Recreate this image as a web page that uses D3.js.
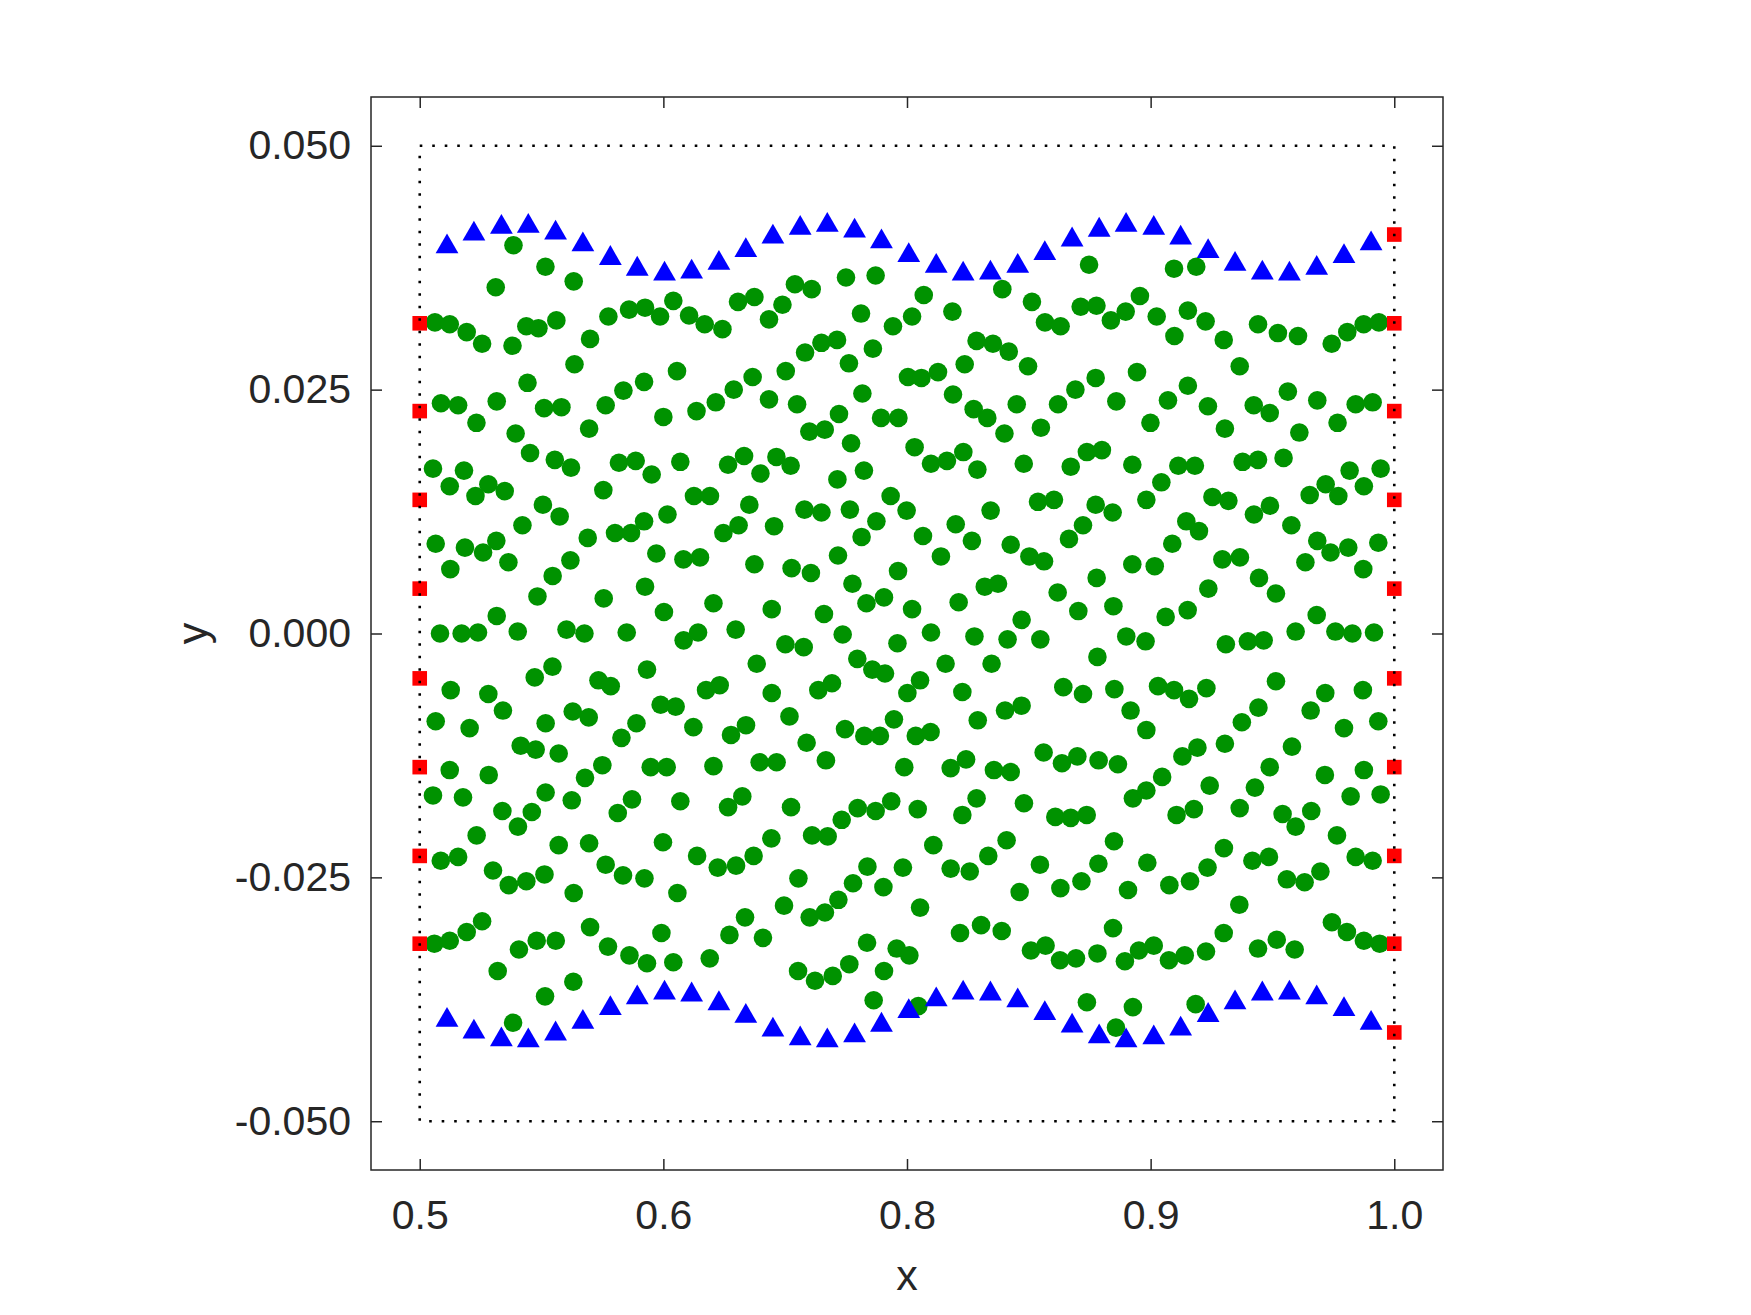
<!DOCTYPE html>
<html>
<head>
<meta charset="utf-8">
<script src="https://cdn.jsdelivr.net/npm/d3@7"></script>
<style>
  body { margin: 0; background: #fff; }
  text { font-family: "Liberation Sans", Arial, Helvetica, sans-serif; fill: #262626; }
</style>
</head>
<body>
<div id="chart"></div>
<script>
// Tick values and labels (x labels are rounded to one decimal)
const xTicks = [0.5, 0.625, 0.75, 0.875, 1.0];
const xTickLabels = ['0.5', '0.6', '0.8', '0.9', '1.0'];
const yTicks = [-0.05, -0.025, 0, 0.025, 0.05];
const yTickLabels = ['-0.050', '-0.025', '0.000', '0.025', '0.050'];

// Fluid particles (green) [x, y]
const fluidPoints = [
  [0.5481,0.0398],[0.5645,0.0376],[0.5390,0.0355],[0.5790,0.0361],[0.5078,0.0319],[0.5154,0.0317],[0.5241,0.0309],[0.5320,0.0297],[0.5476,0.0295],[0.5547,0.0315],[0.5609,0.0313],[0.5701,0.0321],[0.5968,0.0325],[0.6074,0.0332],[0.6156,0.0334],[0.5874,0.0302],[0.5794,0.0276],[0.5553,0.0257],[0.5109,0.0236],[0.5197,0.0234],[0.5291,0.0216],[0.5395,0.0238],[0.5492,0.0205],[0.5638,0.0231],[0.5727,0.0232],[0.5954,0.0234],[0.6045,0.0249],[0.6151,0.0258],[0.5869,0.0210],[0.5566,0.0185],[0.5693,0.0178],[0.5776,0.0170],[0.6022,0.0175],[0.6108,0.0177],[0.5068,0.0169],[0.5154,0.0151],[0.5227,0.0167],[0.5352,0.0153],[0.5436,0.0146],[0.5942,0.0147],
  [0.6233,0.0325],[0.6301,0.0341],[0.6382,0.0326],[0.6462,0.0317],[0.6553,0.0312],[0.6633,0.0340],[0.6717,0.0345],[0.6792,0.0322],[0.6861,0.0337],[0.6925,0.0358],[0.7011,0.0353],[0.7187,0.0365],[0.7339,0.0367],[0.7264,0.0328],[0.6320,0.0269],[0.6250,0.0222],[0.6420,0.0228],[0.6519,0.0237],[0.6611,0.0250],[0.6708,0.0263],[0.6792,0.0240],[0.6878,0.0269],[0.6936,0.0235],[0.6977,0.0288],[0.7061,0.0298],[0.7141,0.0301],[0.7202,0.0277],[0.7325,0.0292],[0.7271,0.0246],[0.7151,0.0225],[0.6999,0.0207],[0.7078,0.0209],[0.7213,0.0195],[0.7367,0.0221],[0.6190,0.0163],[0.6337,0.0176],[0.6582,0.0173],[0.6664,0.0182],[0.6748,0.0164],[0.6830,0.0181],[0.6903,0.0172],[0.7143,0.0158],[0.7279,0.0167],
  [0.7428,0.0315],[0.7526,0.0325],[0.7586,0.0347],[0.7733,0.0330],[0.7989,0.0353],[0.8141,0.0340],[0.8208,0.0319],[0.8288,0.0315],[0.8391,0.0335],[0.8472,0.0336],[0.8546,0.0321],[0.8622,0.0330],[0.8434,0.0378],[0.7857,0.0300],[0.7941,0.0297],[0.8022,0.0289],[0.8121,0.0274],[0.7796,0.0276],[0.7505,0.0263],[0.7574,0.0262],[0.7659,0.0268],[0.7736,0.0245],[0.7842,0.0230],[0.7912,0.0221],[0.8000,0.0205],[0.8063,0.0235],[0.8187,0.0211],[0.8275,0.0235],[0.8364,0.0250],[0.8468,0.0262],[0.8574,0.0238],[0.7456,0.0221],[0.7539,0.0191],[0.7623,0.0174],[0.7705,0.0177],[0.7789,0.0186],[0.7861,0.0168],[0.8099,0.0174],[0.8340,0.0171],[0.8423,0.0186],[0.8500,0.0188],
  [0.8870,0.0374],[0.8984,0.0376],[0.8695,0.0346],[0.8781,0.0325],[0.8941,0.0331],[0.9032,0.0320],[0.8872,0.0305],[0.9125,0.0301],[0.9207,0.0274],[0.9301,0.0317],[0.9403,0.0308],[0.9506,0.0305],[0.9679,0.0297],[0.9759,0.0309],[0.9843,0.0317],[0.9921,0.0319],[0.8680,0.0268],[0.8749,0.0216],[0.8839,0.0239],[0.8941,0.0254],[0.9044,0.0233],[0.9131,0.0210],[0.9279,0.0234],[0.9361,0.0226],[0.9454,0.0248],[0.9513,0.0206],[0.9605,0.0239],[0.9709,0.0216],[0.9802,0.0235],[0.9889,0.0237],[0.8656,0.0173],[0.8805,0.0155],[0.8892,0.0172],[0.8977,0.0172],[0.9222,0.0176],[0.9301,0.0178],[0.9432,0.0180],[0.9648,0.0153],[0.9771,0.0167],[0.9844,0.0151],[0.9930,0.0169],
  [0.5286,0.0141],[0.5632,0.0132],[0.5718,0.0120],[0.5527,0.0111],[0.5082,0.0092],[0.5232,0.0088],[0.5325,0.0083],[0.5393,0.0095],[0.5455,0.0073],[0.5157,0.0066],[0.5862,0.0098],[0.6002,0.0103],[0.6084,0.0103],[0.6151,0.0115],[0.5773,0.0075],[0.5682,0.0059],[0.5604,0.0038],[0.5944,0.0036],[0.6156,0.0048],[0.5395,0.0018],[0.5104,0.0000],[0.5215,0.0000],[0.5299,0.0001],[0.5503,0.0002],[0.5753,0.0004],[0.5845,0.0000],[0.6062,0.0001],[0.5681,-0.0034],[0.5590,-0.0045],[0.5159,-0.0058],[0.5352,-0.0062],[0.5427,-0.0079],[0.5082,-0.0090],[0.5256,-0.0097],[0.5646,-0.0092],[0.5785,-0.0080],[0.5867,-0.0086],[0.5917,-0.0048],[0.5980,-0.0054],[0.6166,-0.0037],[0.6035,-0.0107],[0.6112,-0.0092],[0.5518,-0.0115],[0.5595,-0.0119],[0.5713,-0.0123],[0.5154,-0.0140],[0.5354,-0.0145],[0.5848,-0.0148],[0.5937,-0.0135],
  [0.6407,0.0141],[0.6489,0.0141],[0.6271,0.0122],[0.6691,0.0132],[0.6558,0.0103],[0.6636,0.0111],[0.6818,0.0110],[0.6974,0.0127],[0.7061,0.0124],[0.7207,0.0127],[0.7343,0.0115],[0.7267,0.0099],[0.6214,0.0082],[0.6353,0.0076],[0.6438,0.0078],[0.6717,0.0071],[0.6908,0.0067],[0.7007,0.0062],[0.7146,0.0080],[0.7220,0.0051],[0.7292,0.0031],[0.7382,0.0037],[0.6253,0.0022],[0.6507,0.0031],[0.6806,0.0025],[0.7074,0.0020],[0.6354,-0.0007],[0.6428,0.0001],[0.6621,0.0004],[0.6876,-0.0011],[0.6970,-0.0014],[0.7170,-0.0001],[0.6729,-0.0031],[0.7245,-0.0026],[0.7322,-0.0037],[0.7387,-0.0041],[0.6469,-0.0058],[0.6539,-0.0053],[0.6806,-0.0061],[0.7045,-0.0058],[0.7115,-0.0051],[0.6236,-0.0073],[0.6313,-0.0075],[0.6404,-0.0096],[0.6597,-0.0104],[0.6674,-0.0094],[0.6897,-0.0085],[0.6985,-0.0112],[0.7182,-0.0098],[0.7281,-0.0105],[0.7361,-0.0105],[0.6185,-0.0137],[0.6267,-0.0137],[0.6507,-0.0136],[0.6744,-0.0132],[0.6831,-0.0132],[0.7084,-0.0130],
  [0.7416,0.0141],[0.7498,0.0126],[0.7750,0.0112],[0.7929,0.0126],[0.8172,0.0135],[0.8254,0.0137],[0.8468,0.0132],[0.8555,0.0124],[0.7582,0.0100],[0.7674,0.0079],[0.7833,0.0095],[0.8032,0.0091],[0.8128,0.0079],[0.8203,0.0074],[0.8331,0.0097],[0.8403,0.0111],[0.7454,0.0064],[0.7526,0.0025],[0.7765,0.0032],[0.7899,0.0048],[0.7967,0.0051],[0.8273,0.0042],[0.8379,0.0023],[0.8473,0.0057],[0.8559,0.0028],[0.7451,-0.0010],[0.7623,0.0001],[0.7846,-0.0003],[0.8016,-0.0006],[0.8088,0.0014],[0.8184,-0.0006],[0.8625,-0.0003],[0.8477,-0.0024],[0.7698,-0.0031],[0.7934,-0.0031],[0.7502,-0.0061],[0.7567,-0.0048],[0.7784,-0.0060],[0.8302,-0.0055],[0.8403,-0.0062],[0.8564,-0.0057],[0.7433,-0.0088],[0.7545,-0.0105],[0.7621,-0.0101],[0.7863,-0.0089],[0.8003,-0.0079],[0.8088,-0.0074],[0.7486,-0.0137],[0.7724,-0.0138],[0.7803,-0.0129],[0.7946,-0.0140],[0.8032,-0.0142],[0.8201,-0.0122],[0.8295,-0.0133],[0.8374,-0.0126],[0.8483,-0.0130],[0.8582,-0.0134],
  [0.8728,0.0137],[0.9067,0.0140],[0.9149,0.0136],[0.9280,0.0122],[0.9362,0.0131],[0.9472,0.0111],[0.9566,0.0142],[0.9713,0.0141],[0.8933,0.0115],[0.8998,0.0105],[0.8861,0.0092],[0.8656,0.0071],[0.8771,0.0069],[0.9118,0.0076],[0.9208,0.0078],[0.9306,0.0057],[0.9393,0.0041],[0.9544,0.0073],[0.9605,0.0095],[0.9673,0.0083],[0.9764,0.0088],[0.9841,0.0066],[0.9918,0.0093],[0.9046,0.0046],[0.8940,0.0024],[0.8827,0.0017],[0.8724,-0.0008],[0.9136,-0.0011],[0.9249,-0.0008],[0.9330,-0.0007],[0.9494,0.0002],[0.9602,0.0019],[0.9698,0.0002],[0.9785,0.0000],[0.9896,0.0001],[0.8788,-0.0054],[0.8870,-0.0058],[0.8947,-0.0067],[0.9036,-0.0056],[0.9393,-0.0049],[0.8647,-0.0079],[0.8728,-0.0099],[0.9218,-0.0091],[0.9303,-0.0076],[0.9571,-0.0079],[0.9646,-0.0061],[0.9742,-0.0097],[0.9839,-0.0058],[0.9918,-0.0090],[0.8913,-0.0126],[0.8990,-0.0117],[0.9131,-0.0113],[0.9475,-0.0116],[0.9361,-0.0137],[0.9644,-0.0145],[0.9844,-0.0140],[0.8809,-0.0147],
  [0.5068,-0.0166],[0.5222,-0.0168],[0.5424,-0.0182],[0.5504,-0.0198],[0.5575,-0.0183],[0.5646,-0.0163],[0.5780,-0.0171],[0.6016,-0.0184],[0.6089,-0.0170],[0.5292,-0.0207],[0.5108,-0.0233],[0.5197,-0.0229],[0.5376,-0.0243],[0.5457,-0.0258],[0.5547,-0.0254],[0.5640,-0.0247],[0.5713,-0.0217],[0.5869,-0.0215],[0.5790,-0.0266],[0.5954,-0.0237],[0.6043,-0.0248],[0.6153,-0.0251],[0.5075,-0.0318],[0.5154,-0.0315],[0.5241,-0.0306],[0.5320,-0.0295],[0.5509,-0.0324],[0.5600,-0.0315],[0.5698,-0.0315],[0.5874,-0.0301],[0.5966,-0.0321],[0.6076,-0.0330],[0.6166,-0.0338],[0.5400,-0.0346],[0.5643,-0.0372],[0.5788,-0.0357],[0.5479,-0.0399],
  [0.6337,-0.0172],[0.6582,-0.0178],[0.6655,-0.0167],[0.6905,-0.0178],[0.6248,-0.0214],[0.6423,-0.0228],[0.6529,-0.0240],[0.6623,-0.0238],[0.6713,-0.0228],[0.6804,-0.0210],[0.7013,-0.0207],[0.7093,-0.0208],[0.7165,-0.0191],[0.7247,-0.0179],[0.7339,-0.0182],[0.7419,-0.0172],[0.6322,-0.0266],[0.6943,-0.0251],[0.6869,-0.0279],[0.7001,-0.0291],[0.7079,-0.0286],[0.7148,-0.0273],[0.7223,-0.0256],[0.7297,-0.0239],[0.7379,-0.0260],[0.6240,-0.0307],[0.6301,-0.0337],[0.6488,-0.0333],[0.6589,-0.0309],[0.6669,-0.0291],[0.6761,-0.0312],[0.6941,-0.0346],[0.7028,-0.0356],[0.7119,-0.0351],[0.7204,-0.0339],[0.7295,-0.0317],[0.7382,-0.0346],[0.7329,-0.0376],
  [0.7555,-0.0180],[0.7784,-0.0186],[0.7857,-0.0169],[0.8100,-0.0174],[0.8261,-0.0188],[0.8340,-0.0189],[0.8422,-0.0186],[0.7635,-0.0217],[0.7724,-0.0241],[0.7822,-0.0244],[0.7917,-0.0228],[0.8011,-0.0212],[0.8182,-0.0237],[0.7479,-0.0240],[0.8078,-0.0265],[0.8287,-0.0261],[0.8395,-0.0254],[0.8482,-0.0236],[0.8562,-0.0213],[0.8634,-0.0263],[0.7567,-0.0281],[0.7772,-0.0307],[0.7880,-0.0299],[0.7986,-0.0305],[0.7447,-0.0323],[0.7512,-0.0330],[0.8136,-0.0325],[0.8211,-0.0320],[0.8285,-0.0335],[0.8367,-0.0333],[0.8477,-0.0328],[0.8557,-0.0302],[0.8618,-0.0336],[0.7558,-0.0382],[0.8423,-0.0378],[0.8572,-0.0404],
  [0.8659,-0.0169],[0.8728,-0.0161],[0.9053,-0.0156],[0.9285,-0.0158],[0.9776,-0.0167],[0.9930,-0.0165],[0.8883,-0.0186],[0.8972,-0.0180],[0.9207,-0.0179],[0.9427,-0.0185],[0.9494,-0.0198],[0.9574,-0.0182],[0.9706,-0.0207],[0.8733,-0.0235],[0.8846,-0.0258],[0.8952,-0.0254],[0.9042,-0.0240],[0.9126,-0.0220],[0.9272,-0.0233],[0.9357,-0.0229],[0.9449,-0.0252],[0.9540,-0.0255],[0.9621,-0.0244],[0.9802,-0.0229],[0.9889,-0.0233],[0.9205,-0.0278],[0.8690,-0.0325],[0.8766,-0.0320],[0.8844,-0.0335],[0.8925,-0.0330],[0.9034,-0.0326],[0.9125,-0.0307],[0.9301,-0.0323],[0.9397,-0.0314],[0.9489,-0.0324],[0.9680,-0.0296],[0.9757,-0.0306],[0.9844,-0.0315],[0.9925,-0.0318],[0.8659,-0.0383],[0.8981,-0.0380]
];

// Wall particles (blue triangles)
const wallX = [0.5140,0.5278,0.5419,0.5557,0.5697,0.5837,0.5978,0.6116,0.6256,0.6395,0.6535,0.6673,0.6812,0.6952,0.7091,0.7231,0.7369,0.7509,0.7650,0.7788,0.7928,0.8068,0.8207,0.8347,0.8486,0.8624,0.8766,0.8904,0.9045,0.9183,0.9323,0.9462,0.9602,0.9742,0.9881];
const wallTopY = [0.0400,0.0413,0.0420,0.0421,0.0414,0.0402,0.0388,0.0377,0.0372,0.0374,0.0383,0.0396,0.0410,0.0419,0.0422,0.0416,0.0405,0.0391,0.0380,0.0372,0.0373,0.0380,0.0393,0.0407,0.0417,0.0422,0.0419,0.0409,0.0395,0.0382,0.0373,0.0372,0.0378,0.0390,0.0403];
const wallBottomY = [-0.0393,-0.0405,-0.0413,-0.0414,-0.0407,-0.0395,-0.0381,-0.0370,-0.0365,-0.0367,-0.0376,-0.0389,-0.0403,-0.0412,-0.0414,-0.0409,-0.0398,-0.0384,-0.0372,-0.0365,-0.0366,-0.0373,-0.0386,-0.0399,-0.0410,-0.0414,-0.0411,-0.0402,-0.0388,-0.0375,-0.0366,-0.0365,-0.0370,-0.0382,-0.0396];

// Boundary particles (red squares)
const inletY = [0.0318,0.0228,0.0137,0.0046,-0.0046,-0.0137,-0.0228,-0.0318];
const outletY = [0.0409,0.0318,0.0228,0.0137,0.0046,-0.0046,-0.0137,-0.0228,-0.0318,-0.0409];

// Domain outline (dotted)
const domainX = [0.5, 1.0];
const domainY = [-0.05, 0.05];

const W = 1751, H = 1315;
const margin = { top: 97, right: 308, bottom: 145, left: 371 };
const width = W - margin.left - margin.right;
const height = H - margin.top - margin.bottom;

const svg = d3.select('#chart')
    .append('svg')
    .attr('width', W)
    .attr('height', H)
    .style('background', '#fff');

const g = svg.append('g')
    .attr('transform', `translate(${margin.left},${margin.top})`);

const xScale = d3.scaleLinear().domain([0.475, 1.025]).range([0, width]);
const yScale = d3.scaleLinear().domain([-0.055, 0.055]).range([height, 0]);

const axisColor = '#262626';
const tickLen = 11;

// Fluid particles
g.append('g')
    .selectAll('circle')
    .data(fluidPoints)
    .enter()
    .append('circle')
    .attr('cx', d => xScale(d[0]))
    .attr('cy', d => yScale(d[1]))
    .attr('r', 9.3)
    .attr('fill', '#009200');

// Wall particles
const tri = 'M0,-9.9L11.4,9.9L-11.4,9.9Z';
const walls = wallX.map((x, i) => [x, wallTopY[i]])
    .concat(wallX.map((x, i) => [x, wallBottomY[i]]));
g.append('g')
    .selectAll('path')
    .data(walls)
    .enter()
    .append('path')
    .attr('d', tri)
    .attr('transform', d => `translate(${xScale(d[0])},${yScale(d[1])})`)
    .attr('fill', '#0000ff');

// Boundary particles
const boundary = inletY.map(y => [0.5, y]).concat(outletY.map(y => [1.0, y]));
const sq = 14.6;
g.append('g')
    .selectAll('rect')
    .data(boundary)
    .enter()
    .append('rect')
    .attr('x', d => xScale(d[0]) - sq / 2)
    .attr('y', d => yScale(d[1]) - sq / 2)
    .attr('width', sq)
    .attr('height', sq)
    .attr('fill', '#ff0000');

// Dotted domain outline
g.append('rect')
    .attr('x', xScale(domainX[0]))
    .attr('y', yScale(domainY[1]))
    .attr('width', xScale(domainX[1]) - xScale(domainX[0]))
    .attr('height', yScale(domainY[0]) - yScale(domainY[1]))
    .attr('fill', 'none')
    .attr('stroke', '#000')
    .attr('stroke-width', 2.6)
    .attr('stroke-dasharray', '2.6,9.9');

// Axes (inward ticks, box on)
const fmtX = (d, i) => xTickLabels[i];
const fmtY = (d, i) => yTickLabels[i];

const xAxis = g.append('g')
    .attr('transform', `translate(0,${height})`)
    .call(d3.axisBottom(xScale).tickValues(xTicks).tickFormat(fmtX)
        .tickSizeInner(-tickLen).tickSizeOuter(0).tickPadding(30));
const xAxisTop = g.append('g')
    .call(d3.axisTop(xScale).tickValues(xTicks).tickFormat('')
        .tickSizeInner(-tickLen).tickSizeOuter(0));
const yAxis = g.append('g')
    .call(d3.axisLeft(yScale).tickValues(yTicks).tickFormat(fmtY)
        .tickSizeInner(-tickLen).tickSizeOuter(0).tickPadding(20));
const yAxisRight = g.append('g')
    .attr('transform', `translate(${width},0)`)
    .call(d3.axisRight(yScale).tickValues(yTicks).tickFormat('')
        .tickSizeInner(-tickLen).tickSizeOuter(0));

[xAxis, xAxisTop, yAxis, yAxisRight].forEach(a => {
    a.select('.domain').remove();
    a.selectAll('line').attr('stroke', axisColor).attr('stroke-width', 1.5);
    a.selectAll('text')
        .style('font-family', '"Liberation Sans", Arial, Helvetica, sans-serif')
        .style('font-size', '41px')
        .attr('fill', axisColor);
});

// Axes box
g.append('rect')
    .attr('width', width)
    .attr('height', height)
    .attr('fill', 'none')
    .attr('stroke', axisColor)
    .attr('stroke-width', 1.5);

// Axis labels
g.append('text')
    .attr('x', width / 2)
    .attr('y', height + 120)
    .attr('text-anchor', 'middle')
    .style('font-size', '43px')
    .text('x');

g.append('text')
    .attr('transform', `translate(${207 - margin.left},${yScale(0)}) rotate(-90)`)
    .attr('text-anchor', 'middle')
    .style('font-size', '43px')
    .text('y');
</script>
</body>
</html>
